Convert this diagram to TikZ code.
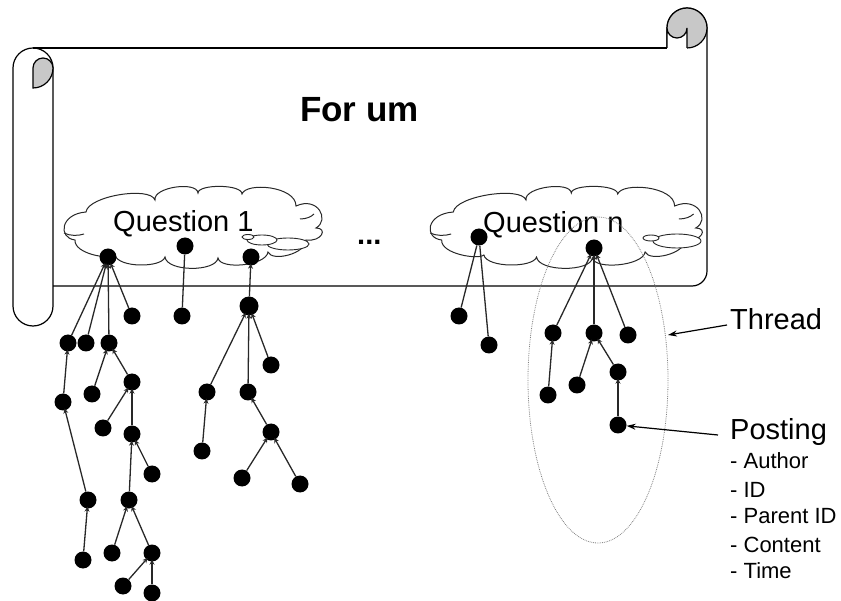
\documentclass[tikz,border=0pt]{standalone}
\usepackage{fontspec}
\setmainfont{Liberation Sans}
\usetikzlibrary{arrows.meta}
\definecolor{curlgray}{RGB}{200,200,200}
\definecolor{linegray}{RGB}{40,40,40}
\newcommand{\myqcloudpath}{(86,212) .. controls (88,196) and (150,186) .. (155,200)
  .. controls (153,187) and (197,181) .. (198,193)
  .. controls (198,184) and (242,184) .. (242,194)
  .. controls (246,182) and (296,186) .. (296,206)
  .. controls (318,196) and (330,220) .. (316,228)
  .. controls (328,228) and (322,242) .. (306,240)
  .. controls (306,254) and (272,262) .. (268,252)
  .. controls (266,266) and (220,270) .. (218,258)
  .. controls (216,272) and (167,272) .. (165,257)
  .. controls (162,268) and (118,268) .. (115,255)
  .. controls (110,260) and (74,254) .. (75,240)
  .. controls (58,238) and (60,214) .. (86,212) -- cycle}
\begin{document}
\begin{tikzpicture}[x=1pt,y=-1pt,
  dot/.style={circle,fill=black,inner sep=0pt,minimum size=17pt},
  bigdot/.style={dot,minimum size=19pt},
  link/.style={draw=linegray,line width=1.3pt,shorten >=-2pt,-{Stealth[length=5pt,width=5pt]}},
  plain/.style={draw=linegray,line width=1.3pt},
  scrollline/.style={draw=black,line width=1.2pt},
  cloudline/.style={draw=linegray,line width=1pt},
  bubble/.style={draw=linegray,line width=0.9pt,fill=white},
  qtext/.style={anchor=base west,inner sep=0pt,font=\fontsize{29}{34}\selectfont},
  lbl/.style={anchor=base west,inner sep=0pt,font=\fontsize{29}{34}\selectfont},
  small/.style={anchor=base west,inner sep=0pt,font=\fontsize{22}{26}\selectfont},
  pointer/.style={draw=black,line width=1.2pt,-{Stealth[length=9pt,width=6pt]}}]
\useasboundingbox (0,0) rectangle (841,601);
% ---- scroll ----
\path[scrollline] (13,306) -- (13,68) arc[start angle=180,end angle=360,radius=20]
  -- (53,306) arc[start angle=0,end angle=180,radius=20] -- cycle;
\path[scrollline,fill=curlgray] (33,88) -- (33,68) arc[start angle=180,end angle=360,radius=10]
  arc[start angle=0,end angle=90,radius=20] -- cycle;
\path[scrollline] (33,48) -- (667,48);
\path[scrollline] (667,48) -- (667,28) arc[start angle=180,end angle=360,radius=20]
  -- (707,271) arc[start angle=0,end angle=90,radius=15] -- (53,286);
\fill[curlgray] (687,28) circle[radius=20];
\fill[white] (667,48) -- (667,28) arc[start angle=180,end angle=0,radius=10] -- (687,48) -- cycle;
\path[scrollline] (667,28) arc[start angle=180,end angle=450,radius=20];
\path[scrollline] (667,48) -- (667,28) arc[start angle=180,end angle=0,radius=10] -- (687,48);
% ---- title ----
\node[anchor=base west,inner sep=0pt,font=\bfseries\fontsize{35}{40}\selectfont] (title) at (300,122) {For um};
% ---- clouds ----
\path[cloudline] \myqcloudpath;
\path[cloudline] (64,233) .. controls (70,236) and (78,236) .. (84,234);
\path[cloudline] (300,219) .. controls (306,219) and (311,217) .. (314,214);
\coordinate (q1) at (192,227);
\begin{scope}[shift={(565,0)},xscale=1.054,shift={(-192,0)}]
  \path[cloudline] \myqcloudpath;
  \path[cloudline] (64,233) .. controls (70,236) and (78,236) .. (84,234);
  \path[cloudline] (300,219) .. controls (306,219) and (311,217) .. (314,214);
  \coordinate (qn) at (192,227);
\end{scope}
\path[bubble] (288,244) ellipse[x radius=21,y radius=6];
\path[bubble] (262,240) ellipse[x radius=15,y radius=5];
\path[bubble] (248,237) ellipse[x radius=6,y radius=2.5];
\path[bubble] (677,241) ellipse[x radius=24,y radius=7];
\path[bubble] (651,238) ellipse[x radius=8,y radius=3];
\node[qtext] (q1t) at (113,232) {Question 1};
\node[qtext] (qnt) at (483,233) {Question n};
\node[anchor=base west,inner sep=0pt,font=\bfseries\fontsize{29}{34}\selectfont] (dots) at (357,245) {...};
% ---- thread ellipse ----
\draw[gray,densely dotted,line width=0.8pt] (598,380) ellipse[x radius=70,y radius=163];
% ---- tree 1 ----
\node[dot] (d1) at (108,257) {};
\node[dot] (d2) at (68,343) {};
\node[dot] (d3) at (86,343) {};
\node[dot] (d4) at (109,343) {};
\node[dot] (d5) at (132,316) {};
\node[dot] (d6) at (63,402) {};
\node[dot] (d7) at (92,394) {};
\node[dot] (d8) at (132,382) {};
\node[dot] (d9) at (103,428) {};
\node[dot] (d10) at (132,434) {};
\node[dot] (d11) at (152,474) {};
\node[dot] (d12) at (88,500) {};
\node[dot] (d13) at (129,500) {};
\node[dot] (d14) at (83,560) {};
\node[dot] (d15) at (112,553) {};
\node[dot] (d16) at (152,553) {};
\node[dot] (d17) at (123,586) {};
\node[dot] (d18) at (152,593) {};
\foreach \c/\p in {d2/d1,d3/d1,d4/d1,d5/d1,d6/d2,d12/d6,d14/d12,d7/d4,d8/d4,d9/d8,d10/d8,d11/d10,d13/d10,d15/d13,d16/d13,d17/d16,d18/d16}
  \draw[link] (\c) -- (\p);
% ---- tree 2 ----
\node[dot] (e1) at (185,246) {};
\node[dot] (e2) at (182,316) {};
\draw[plain] (e2) -- (e1);
% ---- tree 3 ----
\node[dot] (f1) at (251,257) {};
\node[bigdot] (f2) at (249,306) {};
\node[dot] (f3) at (271,365) {};
\node[dot] (f4) at (207,392) {};
\node[dot] (f5) at (248,392) {};
\node[dot] (f6) at (202,451) {};
\node[dot] (f7) at (271,432) {};
\node[dot] (f8) at (242,478) {};
\node[dot] (f9) at (300,484) {};
\foreach \c/\p in {f2/f1,f3/f2,f4/f2,f5/f2,f6/f4,f7/f5,f8/f7,f9/f7}
  \draw[link] (\c) -- (\p);
% ---- tree 4 ----
\node[dot] (g1) at (479,237) {};
\node[dot] (g2) at (459,316) {};
\node[dot] (g3) at (489,345) {};
\draw[plain] (g2) -- (g1);
\draw[plain] (g3) -- (g1);
% ---- tree 5 ----
\node[dot] (h1) at (594,248) {};
\node[dot] (h2) at (553,333) {};
\node[dot] (h3) at (594,333) {};
\node[dot] (h4) at (628,335) {};
\node[dot] (h5) at (548,395) {};
\node[dot] (h6) at (577,385) {};
\node[dot] (h7) at (618,372) {};
\node[dot] (h8) at (618,425) {};
\foreach \c/\p in {h2/h1,h3/h1,h4/h1,h5/h2,h6/h3,h7/h3,h8/h7}
  \draw[link] (\c) -- (\p);
% ---- labels ----
\node[lbl] (thread) at (730,330) {Thread};
\coordinate (thrs) at (727,325);
\coordinate (thrt) at (668,335);
\draw[pointer] (thrs) -- (thrt);
\node[lbl] (posting) at (730,440) {Posting};
\coordinate (poss) at (718,435);
\draw[pointer] (poss) -- (h8);
\node[small] (a1) at (730,468) {- Author};
\node[small] (a2) at (730,497) {- ID};
\node[small] (a3) at (730,523) {- Parent ID};
\node[small] (a4) at (730,552) {- Content};
\node[small] (a5) at (730,578) {- Time};
\end{tikzpicture}
\end{document}
